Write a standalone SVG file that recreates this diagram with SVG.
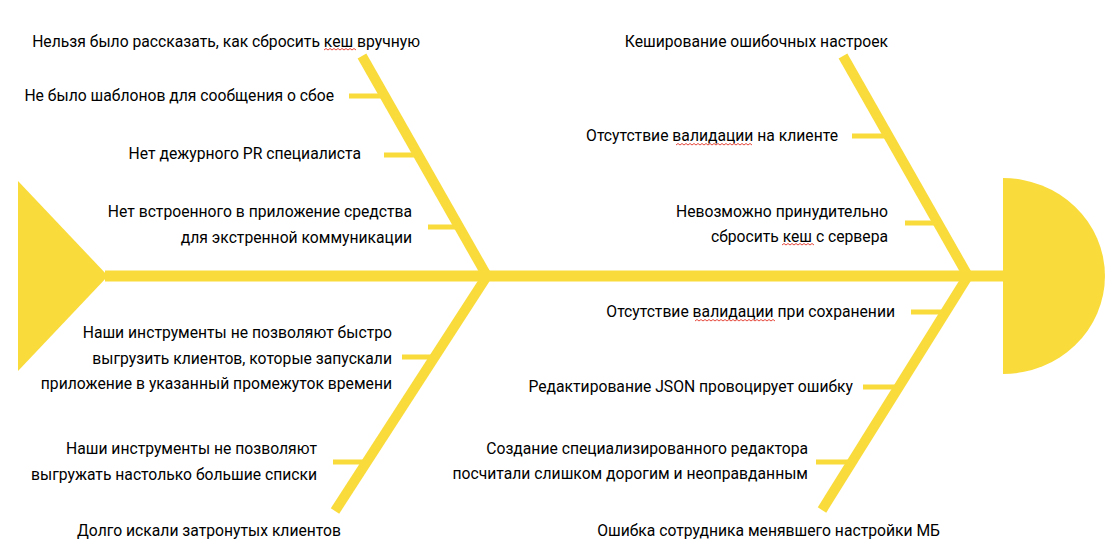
<svg xmlns="http://www.w3.org/2000/svg" width="1119" height="558" viewBox="0 0 1119 558">
<style>
.t{font-family:Roboto,"Liberation Sans",Arial,sans-serif;font-size:15.7px;fill:#000;text-anchor:end}
.b{stroke:#F9DB3B;stroke-width:10;fill:none}
.r{stroke:#F9DB3B;stroke-width:5;fill:none}
.sq{stroke:#E5483A;stroke-width:1;fill:none}
.y{fill:#F9DB3B}
</style>
<rect width="1119" height="558" fill="#fff"/>
<g id="tail"><polygon class="y" points="18,181 108,276 18,371"/></g>
<g id="head"><path class="y" d="M1003,178 A102,98 0 0 1 1003,374 Z"/></g>
<g id="connectors">
<line class="b" x1="105" y1="276" x2="1005" y2="276" style="stroke-width:11"/>
<line class="b" x1="362" y1="56" x2="487" y2="276"/>
<line class="b" x1="487" y1="276" x2="335" y2="511"/>
<line class="b" x1="843" y1="56" x2="968" y2="276"/>
<line class="b" x1="968" y1="276" x2="822" y2="510"/>
<line class="r" x1="349" y1="96" x2="386" y2="96"/>
<line class="r" x1="384" y1="155" x2="419" y2="155"/>
<line class="r" x1="428" y1="227" x2="460" y2="227"/>
<line class="r" x1="402" y1="357" x2="436" y2="357"/>
<line class="r" x1="333" y1="462" x2="368" y2="462"/>
<line class="r" x1="852" y1="136" x2="890" y2="136"/>
<line class="r" x1="905" y1="223" x2="939" y2="223"/>
<line class="r" x1="911" y1="312" x2="947" y2="312"/>
<line class="r" x1="863" y1="387" x2="900" y2="387"/>
<line class="r" x1="816" y1="462" x2="853" y2="462"/>
</g>
<g id="n1"><text class="t" x="420" y="47">Нельзя было рассказать, как сбросить кеш вручную</text>
<polyline class="sq" points="324,50 326,48.5 328,50 330,48.5 332,50 334,48.5 336,50 338,48.5 340,50 342,48.5 344,50 346,48.5 348,50 350,48.5 352,50 354,48.5 356,50"/></g>
<g id="n2"><text class="t" x="334" y="101">Не было шаблонов для сообщения о сбое</text></g>
<g id="n3"><text class="t" x="361" y="159">Нет дежурного PR специалиста</text></g>
<g id="n4"><text class="t" x="412" y="217">Нет встроенного в приложение средства</text>
<text class="t" x="412" y="243">для экстренной коммуникации</text></g>
<g id="n5"><text class="t" x="392" y="338">Наши инструменты не позволяют быстро</text>
<text class="t" x="392" y="364">выгрузить клиентов, которые запускали</text>
<text class="t" x="392" y="389">приложение в указанный промежуток времени</text></g>
<g id="n6"><text class="t" x="317" y="454">Наши инструменты не позволяют</text>
<text class="t" x="317" y="480">выгружать настолько большие списки</text></g>
<g id="n7"><text class="t" x="341" y="536">Долго искали затронутых клиентов</text></g>
<g id="n8"><text class="t" x="888" y="47">Кеширование ошибочных настроек</text></g>
<g id="n9"><text class="t" x="838" y="141">Отсутствие валидации на клиенте</text>
<polyline class="sq" points="676,145 678,143.5 680,145 682,143.5 684,145 686,143.5 688,145 690,143.5 692,145 694,143.5 696,145 698,143.5 700,145 702,143.5 704,145 706,143.5 708,145 710,143.5 712,145 714,143.5 716,145 718,143.5 720,145 722,143.5 724,145 726,143.5 728,145 730,143.5 732,145 734,143.5 736,145 738,143.5 740,145 742,143.5 744,145 746,143.5 748,145 750,143.5 752,145"/></g>
<g id="n10"><text class="t" x="888" y="217">Невозможно принудительно</text>
<text class="t" x="888" y="242">сбросить кеш с сервера</text>
<polyline class="sq" points="782,245 784,243.5 786,245 788,243.5 790,245 792,243.5 794,245 796,243.5 798,245 800,243.5 802,245 804,243.5 806,245 808,243.5 810,245 812,243.5 814,245"/></g>
<g id="n11"><text class="t" x="895" y="317">Отсутствие валидации при сохранении</text>
<polyline class="sq" points="695,321 697,319.5 699,321 701,319.5 703,321 705,319.5 707,321 709,319.5 711,321 713,319.5 715,321 717,319.5 719,321 721,319.5 723,321 725,319.5 727,321 729,319.5 731,321 733,319.5 735,321 737,319.5 739,321 741,319.5 743,321 745,319.5 747,321 749,319.5 751,321 753,319.5 755,321 757,319.5 759,321 761,319.5 763,321 765,319.5 767,321 769,319.5 771,321 773,319.5 775,321"/></g>
<g id="n12"><text class="t" x="853" y="392">Редактирование JSON провоцирует ошибку</text></g>
<g id="n13"><text class="t" x="808" y="454">Создание специализированного редактора</text>
<text class="t" x="808" y="479">посчитали слишком дорогим и неоправданным</text></g>
<g id="n14"><text class="t" x="940" y="536">Ошибка сотрудника менявшего настройки МБ</text></g>
</svg>
